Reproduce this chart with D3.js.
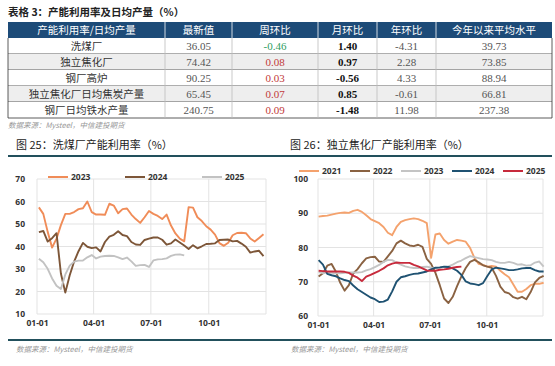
<!DOCTYPE html>
<html><head><meta charset="utf-8">
<script src="https://cdn.jsdelivr.net/npm/d3@7"></script>
<style>
body{margin:0;background:#fff;}
svg{display:block;}
</style></head>
<body><svg id="c" width="555" height="366"></svg>
<script>
// ---------- DATA ----------
const tableTitle = "表格 3：产能利用率及日均产量（%）";
const tableHeaders = ["产能利用率/日均产量", "最新值", "周环比", "月环比", "年环比", "今年以来平均水平"];
const rowNames = ["洗煤厂", "独立焦化厂", "钢厂高炉", "独立焦化厂日均焦炭产量", "钢厂日均铁水产量"];
const latest = ["36.05", "74.42", "90.25", "65.45", "240.75"];
const weekChg = ["-0.46", "0.08", "0.03", "0.07", "0.09"];
const monthChg = ["1.40", "0.97", "-0.56", "0.85", "-1.48"];
const yearChg = ["-4.31", "2.28", "4.33", "-0.61", "11.98"];
const ytdAvg = ["39.73", "73.85", "88.94", "66.81", "237.38"];
const sourceText = "数据来源：Mysteel，中信建投期货";

const chart1Title = "图 25：洗煤厂产能利用率（%）";
const chart2Title = "图 26：独立焦化厂产能利用率（%）";
const xTickLabels = ["01-01", "04-01", "07-01", "10-01"];

const washYears = ["2023", "2024", "2025"];
const wash2023 = [57.4,54.5,46.5,39.5,43.5,49.5,54.5,54.5,55.3,56.6,57,60,55.3,54.2,54.2,54.1,59,58.2,54.8,56.6,56.9,54.2,52.2,50.5,53,55.8,54.5,53.6,52.2,54.2,49.3,45.8,43.5,42.3,57.5,57.3,53,51.3,49,47.5,45.3,41.5,40.3,41.7,45,46,46.1,45.9,43.6,42.2,43.8,45.4];
const wash2024 = [46.4,46.9,42.2,43.7,45.9,28,19.5,27.2,33.3,37.9,41.6,39.9,39.3,39.6,37.8,42,44.4,45.2,46.8,45.1,44.6,42,40.9,40.7,42.9,43.5,44,44,43,40.8,41.4,43.1,41.8,40.4,38.9,40.6,39.2,40.1,41.1,41.2,41.4,42.9,43,43.1,42.3,42.5,41.3,39.9,37.3,37.8,38.1,35.7];
const wash2025 = [34.6,33,30.1,25.8,22.6,21.1,27.6,31.5,33.3,33.7,33.8,35.2,36.2,34.7,35.5,35.8,35.9,35.8,35.2,34.4,35.1,33.4,31.4,31.7,31.8,30.9,33.8,34.3,34.4,34.7,35.8,36.4,36.5,36.05];
const washYTicks = [10,20,30,40,50,60,70];

const cokeYears = ["2021", "2022", "2023", "2024", "2025"];
const coke2021 = [89,89.2,89.3,89.6,89.9,90.1,90.2,90.1,90.7,91,90.4,89.4,88.3,87.7,87.1,86,84.3,83.6,86,87.5,88,88.3,88.5,88.3,87.8,87.1,77,83.8,84.1,82.2,81.1,81.7,82.2,82,81.7,79.9,77,75.2,74.9,74.4,74.6,74.4,73.2,72.2,71.3,69.2,67.1,67.1,67.9,69,69.4,69.4,69.7];
const coke2022 = [71.5,72.5,74.7,75.2,72.9,69.7,67.4,69,72.4,73.7,75.4,76.8,77.2,77.3,75.9,75.8,77.4,79,81.2,82,81.2,80.6,80.4,80.8,80.2,76.7,75.2,72.6,69,65.1,63.8,65.6,68.7,71.6,74,75.8,76.4,75.7,74.8,74.4,74.1,71.7,68.6,67,66.6,65.5,65.1,65.6,64.9,67,69.8,71.1,71.7];
const coke2023 = [72.8,72.5,72.7,72.6,72.5,72.5,72.6,72.7,72.7,72.7,72.8,73.3,73.7,74.3,74.9,75.8,76.4,76.3,75.6,75,74.5,74.2,74,74,74.3,74.4,74.1,74,74.1,74.3,74.5,75,75.7,76.2,76.9,77.5,77.2,76.9,76.6,76.5,76.3,75.8,75.5,75.5,75.8,75.5,75,75.1,74.7,74.8,75.6,75.9,74.4];
const coke2024 = [76.3,75,72.3,71.9,71.6,71,70.5,70.2,68.9,67.8,67,66.2,65.4,64.9,64.1,64.2,64.8,67.2,70,71.3,71.6,72,72.3,72.4,72.7,73,73.6,74.1,74.2,74.4,74.3,73.9,73.2,72,70.1,69.5,69.3,69,69.6,71.7,73.6,74.1,73.9,73.7,73.4,73.4,73.6,73.9,74,74,73.4,73,73];
const coke2025 = [73.2,73.1,73,73,73,73,72.9,72.6,71.8,71.2,70.2,71.5,72,72.6,73.2,73.9,74.8,75.3,75.6,75.5,75.5,75.5,74.9,74.5,73.9,73.3,73.2,73.2,73.5,73.6,73.8,74.1,74.3,74.42];
const cokeYTicks = [60,70,80,90,100];

// ---------- LAYOUT / STYLE ----------
const svg = d3.select("#c");
const CJK = "'Noto Sans CJK SC', sans-serif";
const SERIF = "'Liberation Serif', 'Times New Roman', serif";
const TICKF = "'Open Sans', 'Noto Sans', sans-serif";
const teal = "#22505c";

// Table
svg.append("text").attr("x", 8).attr("y", 16).attr("font-family", CJK).attr("font-weight", "bold")
  .attr("font-size", 10.5).attr("fill", "#222").text(tableTitle);

const colEdges = [8, 165, 232, 318, 377, 436, 552];
const tableTop = 22, headerH = 16, rowH = 16;
const yRow = d3.scaleBand().domain(d3.range(rowNames.length)).range([tableTop + headerH, tableTop + headerH + rowH * rowNames.length]);

svg.append("rect").attr("x", colEdges[0]).attr("y", tableTop).attr("width", colEdges[6] - colEdges[0]).attr("height", headerH).attr("fill", "#1d4b78");
tableHeaders.forEach((h, i) => {
  svg.append("text").attr("x", (colEdges[i] + colEdges[i + 1]) / 2).attr("y", tableTop + headerH / 2 + 4)
    .attr("text-anchor", "middle").attr("font-family", CJK).attr("font-size", 10.5).attr("fill", "#fff").text(h);
  if (i > 0) svg.append("line").attr("x1", colEdges[i]).attr("x2", colEdges[i]).attr("y1", tableTop).attr("y2", tableTop + headerH).attr("stroke", "#fff").attr("stroke-width", 0.8);
});
rowNames.forEach((name, r) => {
  const y0 = yRow(r);
  svg.append("rect").attr("x", colEdges[0]).attr("y", y0).attr("width", colEdges[6] - colEdges[0]).attr("height", rowH)
    .attr("fill", r % 2 === 1 ? "#eeeeee" : "#ffffff");
  const cells = [name, latest[r], weekChg[r], monthChg[r], yearChg[r], ytdAvg[r]];
  cells.forEach((v, c) => {
    let fill = "#555", fam = SERIF, wt = "normal";
    if (c === 0) { fill = "#333"; fam = CJK; }
    if (c === 2) fill = v.startsWith("-") ? "#2f9e5f" : "#c23a3a";
    if (c === 3) { fill = "#111"; wt = "bold"; }
    svg.append("text").attr("x", (colEdges[c] + colEdges[c + 1]) / 2).attr("y", y0 + rowH / 2 + 4)
      .attr("text-anchor", "middle").attr("font-family", fam).attr("font-weight", wt)
      .attr("font-size", c === 0 ? 10.5 : 11).attr("fill", fill).text(v);
  });
  svg.append("line").attr("x1", colEdges[0]).attr("x2", colEdges[6]).attr("y1", y0 + rowH).attr("y2", y0 + rowH).attr("stroke", "#333").attr("stroke-width", 0.8);
});
colEdges.forEach((x, i) => {
  svg.append("line").attr("x1", x).attr("x2", x).attr("y1", tableTop + headerH).attr("y2", tableTop + headerH + rowH * rowNames.length)
    .attr("stroke", i === 0 || i === 6 ? "#333" : "#bbb").attr("stroke-width", 0.8);
});
svg.append("text").attr("x", 8).attr("y", 128).attr("font-family", CJK).attr("font-style", "italic")
  .attr("font-size", 7.5).attr("fill", "#999").text(sourceText);

// Chart titles and separators
svg.append("text").attr("x", 16).attr("y", 149).attr("font-family", CJK).attr("font-size", 11).attr("fill", "#222").text(chart1Title);
svg.append("text").attr("x", 290).attr("y", 149).attr("font-family", CJK).attr("font-size", 11).attr("fill", "#222").text(chart2Title);
svg.append("line").attr("x1", 8).attr("x2", 552).attr("y1", 156).attr("y2", 156).attr("stroke", teal).attr("stroke-width", 2.2);
svg.append("line").attr("x1", 8).attr("x2", 552).attr("y1", 340).attr("y2", 340).attr("stroke", teal).attr("stroke-width", 2.2);
svg.append("text").attr("x", 16).attr("y", 352).attr("font-family", CJK).attr("font-style", "italic").attr("font-size", 7.5).attr("fill", "#999").text(sourceText);
svg.append("text").attr("x", 291).attr("y", 352).attr("font-family", CJK).attr("font-style", "italic").attr("font-size", 7.5).attr("fill", "#999").text(sourceText);

const parseMD = d3.timeParse("%Y-%m-%d");
const tickDates = xTickLabels.map(s => parseMD("2023-" + s));
const yearStart = parseMD("2023-01-01"), yearEnd = parseMD("2023-12-31");

function drawChart(cfg) {
  const g = svg.append("g");
  const x = d3.scaleTime().domain([yearStart, yearEnd]).range([cfg.x0, cfg.x1]);
  const y = d3.scaleLinear().domain(cfg.yDomain).range([cfg.yb, cfg.yt]);
  // grid
  g.selectAll(".hg").data(cfg.yTicks).join("line").attr("x1", cfg.x0).attr("x2", cfg.x1)
    .attr("y1", d => y(d)).attr("y2", d => y(d)).attr("stroke", "#e3e3e3").attr("stroke-width", 1);
  g.selectAll(".vg").data(tickDates.concat([yearEnd])).join("line").attr("x1", d => x(d)).attr("x2", d => x(d))
    .attr("y1", cfg.yt).attr("y2", cfg.yb).attr("stroke", "#e3e3e3").attr("stroke-width", 1);
  // axes
  const ya = g.append("g").attr("transform", `translate(${cfg.yLabelX},0)`)
    .call(d3.axisLeft(y).tickValues(cfg.yTicks).tickSize(0).tickPadding(0));
  ya.select(".domain").remove();
  ya.selectAll("text").attr("font-family", TICKF).attr("font-weight", "bold").attr("font-size", 8.5).attr("fill", "#333");
  const xa = g.append("g").attr("transform", `translate(0,${cfg.yb + 6})`)
    .call(d3.axisBottom(x).tickValues(tickDates).tickFormat(d3.timeFormat("%m-%d")).tickSize(0).tickPadding(0));
  xa.select(".domain").remove();
  xa.selectAll("text").attr("font-family", TICKF).attr("font-weight", "bold").attr("font-size", 8.5).attr("fill", "#333");
  // lines
  const line = d3.line().x(d => x(d.date)).y(d => y(d.v)).curve(d3.curveLinear);
  const start = parseMD(cfg.start);
  cfg.series.forEach((s, i) => {
    const pts = s.values.map((v, k) => ({ date: d3.timeDay.offset(start, 7 * k), v }));
    g.append("path").datum(pts).attr("d", line).attr("fill", "none").attr("stroke", cfg.colors[i])
      .attr("stroke-width", 1.9).attr("stroke-linejoin", "round");
  });
  // legend
  cfg.series.forEach((s, i) => {
    const lx = cfg.legendX[i];
    g.append("line").attr("x1", lx).attr("x2", lx + 20).attr("y1", cfg.legendY).attr("y2", cfg.legendY)
      .attr("stroke", cfg.colors[i]).attr("stroke-width", 2);
    g.append("text").attr("x", lx + 23).attr("y", cfg.legendY + 3).attr("font-family", TICKF).attr("font-weight", "bold")
      .attr("font-size", 8.5).attr("fill", "#333").text(s.name);
  });
}

drawChart({
  x0: 37, x1: 266, yt: 179, yb: 314, yDomain: [10, 70], yTicks: washYTicks, yLabelX: 25,
  start: "2023-01-04",
  series: washYears.map((n, i) => ({ name: n, values: [wash2023, wash2024, wash2025][i] })),
  colors: ["#f08c58", "#7d5638", "#c2c2c2"],
  legendX: [48, 125, 202], legendY: 177
});
drawChart({
  x0: 318, x1: 543, yt: 179, yb: 316, yDomain: [60, 100], yTicks: cokeYTicks, yLabelX: 308,
  start: "2023-01-02",
  series: cokeYears.map((n, i) => ({ name: n, values: [coke2021, coke2022, coke2023, coke2024, coke2025][i] })),
  colors: ["#f4a26d", "#8a6242", "#c4c4c4", "#1f5272", "#c72a3c"],
  legendX: [299, 350, 401, 452, 503], legendY: 171
});
</script></body></html>
